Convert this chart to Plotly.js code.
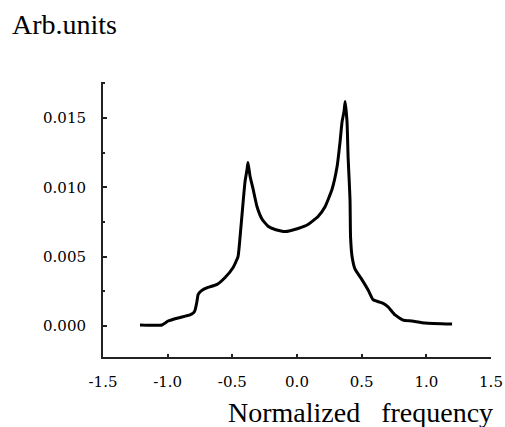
<!DOCTYPE html>
<html>
<head>
<meta charset="utf-8">
<script src="https://cdn.plot.ly/plotly-3.0.1.min.js"></script>
<style>html,body{margin:0;padding:0;background:#fff;}#chart{width:505px;height:427px;}</style>
</head>
<body>
<div id="chart"></div>
<script>
var freq = [-1.214,-1.044,-0.997,-0.920,-0.827,-0.800,-0.788,-0.775,-0.765,-0.750,-0.734,-0.688,-0.618,-0.556,-0.495,-0.456,-0.440,-0.417,-0.402,-0.386,-0.379,-0.363,-0.340,-0.309,-0.270,-0.224,-0.170,-0.092,0.008,0.085,0.163,0.217,0.271,0.310,0.333,0.348,0.364,0.372,0.387,0.395,0.403,0.410,0.414,0.426,0.449,0.503,0.550,0.588,0.630,0.658,0.704,0.758,0.820,0.890,0.990,1.199];
var intensity = [0.00007,0.00007,0.00036,0.00058,0.0008,0.00095,0.00116,0.0017,0.00225,0.00245,0.00258,0.00278,0.0030,0.0035,0.0042,0.0050,0.00645,0.0089,0.0104,0.0113,0.0118,0.0108,0.0099,0.0086,0.0077,0.0072,0.00696,0.00681,0.00703,0.00732,0.0079,0.0086,0.00986,0.0115,0.0133,0.0147,0.0155,0.0162,0.0147,0.0122,0.0106,0.0091,0.00645,0.0050,0.0041,0.00333,0.0026,0.0019,0.00175,0.00167,0.00138,0.0008,0.00043,0.00036,0.00022,0.00014];
var xTickVals = [-1.5,-1.0,-0.5,0.0,0.5,1.0,1.5];
var xTickText = ['-1.5','-1.0','-0.5','0.0','0.5','1.0','1.5'];
var yTickVals = [0.000,0.005,0.010,0.015];
var yTickText = ['0.000','0.005','0.010','0.015'];

var trace = {
  x: freq, y: intensity, type: 'scatter', mode: 'lines',
  line: {color: '#000', width: 3, shape: 'spline', smoothing: 0.4}, hoverinfo: 'skip'
};
var serif = 'Liberation Serif';
var tickFont = {family: 'DejaVu Serif', size: 15, color: '#000'};
var layout = {
  width: 505, height: 427,
  margin: {l: 103, r: 14, t: 82, b: 70, pad: 0},
  paper_bgcolor: '#fff', plot_bgcolor: '#fff',
  showlegend: false,
  title: {text: 'Arb.units', x: 12/505, xanchor: 'left', xref: 'container',
          y: 1 - 24/427, yanchor: 'middle', yref: 'container',
          font: {family: serif, size: 28, color: '#000'}},
  xaxis: {range: [-1.5, 1.5], tickvals: xTickVals, ticktext: xTickText,
          showgrid: false, zeroline: false, showline: true, linecolor: '#222', linewidth: 2,
          ticks: 'inside', ticklen: 3, tickwidth: 2, tickcolor: '#222',
          ticklabelstandoff: 10, tickfont: tickFont},
  yaxis: {range: [-0.002236, 0.0176], tickvals: yTickVals, ticktext: yTickText,
          showgrid: false, zeroline: false, showline: true, linecolor: '#222', linewidth: 2,
          ticks: 'inside', ticklen: 4, tickwidth: 2, tickcolor: '#222',
          ticklabelstandoff: 12, tickfont: tickFont,
          minor: {tickvals: [0.0025, 0.0075, 0.0125, 0.0175], ticks: 'inside', ticklen: 2, tickwidth: 2, tickcolor: '#222', showgrid: false}},
  annotations: [{text: 'Normalized&nbsp;&nbsp; frequency', xref: 'paper', yref: 'paper',
                 x: (495-103)/388, xanchor: 'right', y: (357-412)/275, yanchor: 'middle',
                 showarrow: false, font: {family: serif, size: 28, color: '#000'}}]
};
Plotly.newPlot('chart', [trace], layout, {displayModeBar: false, staticPlot: true});
</script>
</body>
</html>
